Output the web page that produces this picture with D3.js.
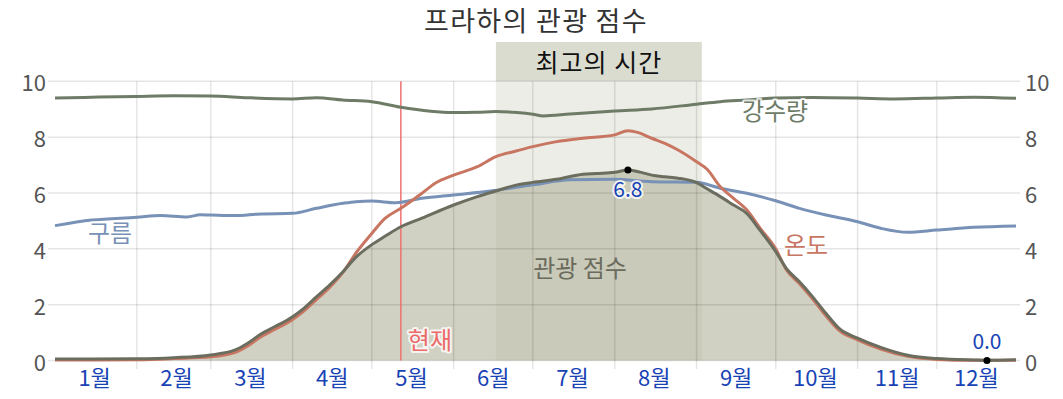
<!DOCTYPE html>
<html>
<head>
<meta charset="utf-8">
<script src="https://cdn.jsdelivr.net/npm/d3@7"></script>
<style>
  body { margin: 0; background: #fff; }
  svg { display: block; font-family: "Noto Sans CJK KR", "Noto Sans", sans-serif; }
</style>
</head>
<body>
<div id="wrapper"></div>
<script>
// data (month-day, value 0-10)
const monthLabels = ["1월","2월","3월","4월","5월","6월","7월","8월","9월","10월","11월","12월"]
const yTicks = [0, 2, 4, 6, 8, 10]

const scoreDates = ["01-01","01-15","02-01","02-15","03-01","03-10","03-15","03-20","03-25","04-01","04-05","04-10","04-15","04-20","04-25","05-01","05-06","05-12","05-20","06-01","06-10","06-17","06-25","07-01","07-10","07-20","07-25","08-01","08-06","08-10","08-15","08-20","08-25","09-01","09-05","09-10","09-15","09-20","09-25","10-01","10-05","10-10","10-15","10-20","10-25","11-01","11-10","11-20","12-01","12-15","12-20","12-31"]
const scoreValues = [0.05,0.05,0.06,0.1,0.2,0.37,0.62,0.95,1.2,1.57,1.85,2.28,2.7,3.17,3.7,4.15,4.45,4.79,5.1,5.57,5.87,6.07,6.29,6.38,6.49,6.67,6.7,6.74,6.82,6.76,6.64,6.58,6.53,6.37,6.15,5.87,5.57,5.27,4.67,3.9,3.3,2.82,2.28,1.69,1.15,0.8,0.46,0.19,0.07,0.02,0.01,0.03]

const tempDates = ["01-01","01-15","02-01","02-15","03-01","03-10","03-15","03-20","03-25","04-01","04-05","04-10","04-15","04-20","04-25","05-01","05-06","05-12","05-20","05-25","06-01","06-10","06-17","06-25","07-01","07-10","07-20","08-01","08-06","08-10","08-15","08-20","08-25","09-01","09-05","09-10","09-15","09-20","09-25","10-01","10-05","10-10","10-15","10-20","10-25","11-01","11-10","11-20","12-01","12-15","12-31"]
const tempValues = [0.02,0.02,0.03,0.07,0.13,0.28,0.52,0.85,1.1,1.47,1.75,2.18,2.62,3.15,3.85,4.55,5.09,5.45,5.99,6.35,6.64,6.94,7.3,7.51,7.66,7.84,7.96,8.08,8.23,8.16,7.96,7.78,7.54,7.12,6.85,6.22,5.81,5.4,4.75,4.0,3.25,2.75,2.2,1.6,1.08,0.74,0.4,0.15,0.04,0.01,0.01]

const cloudDates = ["01-01","01-15","02-01","02-10","02-20","02-25","03-01","03-10","03-20","04-01","04-10","04-20","04-25","05-01","05-10","05-20","06-01","06-15","07-01","07-15","08-01","08-15","09-01","09-10","09-20","10-01","10-10","10-20","11-01","11-10","11-20","12-01","12-15","12-31"]
const cloudValues = [4.83,5.03,5.13,5.19,5.14,5.22,5.21,5.19,5.25,5.27,5.45,5.63,5.69,5.71,5.65,5.81,5.93,6.07,6.29,6.47,6.49,6.4,6.38,6.17,5.99,5.72,5.45,5.21,4.97,4.73,4.59,4.67,4.77,4.82]

const rainDates = ["01-01","01-15","02-01","02-15","03-01","03-15","04-01","04-10","04-20","05-01","05-12","06-01","06-10","06-17","06-25","07-01","07-05","07-15","08-01","08-15","09-01","09-10","09-20","10-01","10-15","11-01","11-15","12-01","12-15","12-31"]
const rainValues = [9.4,9.43,9.46,9.48,9.47,9.41,9.37,9.41,9.33,9.27,9.07,8.88,8.89,8.92,8.88,8.82,8.76,8.83,8.94,9.01,9.18,9.27,9.33,9.4,9.42,9.4,9.37,9.4,9.43,9.39]

const bestStart = "06-17"
const bestEnd = "09-03"
const nowDate = "05-12"
const peakDate = "08-06", peakValue = 6.8
const lowDate = "12-20", lowValue = 0.0

const parseDay = d3.timeParse("%Y-%m-%d")
const day = s => parseDay("2023-" + s)
const toPoints = (dates, values) => dates.map((d, i) => ({ date: day(d), value: values[i] }))

const score = toPoints(scoreDates, scoreValues)
const temp = toPoints(tempDates, tempValues)
const cloud = toPoints(cloudDates, cloudValues)
const rain = toPoints(rainDates, rainValues)

const width = 1063, height = 399

const svg = d3.select("#wrapper").append("svg")
    .attr("width", width)
    .attr("height", height)

const xScale = d3.scaleTime()
    .domain([day("01-01"), day("12-31")])
    .range([55, 1016])
const yScale = d3.scaleLinear()
    .domain([0, 10])
    .range([360.5, 81.3])

// best time band
const bx0 = xScale(day(bestStart)), bx1 = xScale(day(bestEnd))
svg.append("rect")
    .attr("x", bx0).attr("y", 42)
    .attr("width", bx1 - bx0)
    .attr("height", yScale(10) - 42)
    .attr("fill", "#dbdcd0")
svg.append("rect")
    .attr("x", bx0).attr("y", yScale(10))
    .attr("width", bx1 - bx0)
    .attr("height", yScale(0) - yScale(10))
    .attr("fill", "#ecede6")
svg.append("text")
    .attr("x", (bx0 + bx1) / 2)
    .attr("y", 72)
    .attr("text-anchor", "middle")
    .attr("font-size", 25)
    .attr("letter-spacing", 1)
    .attr("fill", "#111")
    .text("최고의 시간")

// score area
const area = d3.area()
    .x(d => xScale(d.date))
    .y0(yScale(0))
    .y1(d => yScale(d.value))
    .curve(d3.curveMonotoneX)
svg.append("path")
    .attr("d", area(score))
    .attr("fill", "rgb(180,182,158)")
    .attr("fill-opacity", 0.63)

// grid
const grid = svg.append("g")
    .attr("stroke", "rgba(0,0,0,0.1)")
    .attr("stroke-width", 1.5)
grid.selectAll("line.h")
    .data(yTicks)
    .join("line")
    .attr("x1", 48).attr("x2", 1020)
    .attr("y1", d => yScale(d)).attr("y2", d => yScale(d))
grid.selectAll("line.v")
    .data(d3.range(1, 12).map(m => new Date(2023, m, 1)))
    .join("line")
    .attr("x1", d => xScale(d)).attr("x2", d => xScale(d))
    .attr("y1", yScale(10)).attr("y2", 369)

// y labels
const yLabelStyle = sel => sel
    .attr("font-size", 22)
    .attr("fill", "#555")
    .attr("dominant-baseline", "central")
svg.append("g").selectAll("text")
    .data(yTicks)
    .join("text")
    .attr("x", 46)
    .attr("y", d => yScale(d))
    .attr("text-anchor", "end")
    .call(yLabelStyle)
    .text(d => d)
svg.append("g").selectAll("text")
    .data(yTicks)
    .join("text")
    .attr("x", 1025)
    .attr("y", d => yScale(d))
    .attr("text-anchor", "start")
    .call(yLabelStyle)
    .text(d => d)

// month labels
svg.append("g").selectAll("text")
    .data(monthLabels)
    .join("text")
    .attr("x", (d, i) => xScale(new Date(2023, i, 16)))
    .attr("y", 386)
    .attr("text-anchor", "middle")
    .attr("font-size", 22)
    .attr("fill", "#1843b5")
    .text(d => d)

// now line
svg.append("line")
    .attr("x1", xScale(day(nowDate))).attr("x2", xScale(day(nowDate)))
    .attr("y1", yScale(10)).attr("y2", yScale(0))
    .attr("stroke", "#f07070")
    .attr("stroke-width", 1.5)

// lines
const line = d3.line()
    .x(d => xScale(d.date))
    .y(d => yScale(d.value))
    .curve(d3.curveMonotoneX)
const drawLine = (data, color) => svg.append("path")
    .attr("d", line(data))
    .attr("fill", "none")
    .attr("stroke", color)
    .attr("stroke-width", 3)
    .attr("stroke-linejoin", "round")
drawLine(rain, "#6e7b66")
drawLine(cloud, "#7891b6")
drawLine(temp, "#c87662")
drawLine(score, "#6b6d5e")

// labels with halo
const label = (x, y, txt, color, size, anchor) => svg.append("text")
    .attr("x", x).attr("y", y)
    .attr("text-anchor", anchor || "middle")
    .attr("font-size", size)
    .attr("fill", color)
    .attr("stroke", "rgba(255,255,255,0.8)")
    .attr("stroke-width", 4)
    .attr("paint-order", "stroke")
    .attr("stroke-linejoin", "round")
    .text(txt)

label(775, 120, "강수량", "#6e7b66", 24)
label(110, 242, "구름", "#7891b6", 24)
label(806, 254, "온도", "#c87662", 24)
svg.append("text")
    .attr("x", 580).attr("y", 277)
    .attr("text-anchor", "middle")
    .attr("font-size", 24)
    .attr("fill", "#6b6b5d")
    .text("관광 점수")
label(xScale(day(nowDate)) + 7, 349, "현재", "#ec6a6a", 24, "start")

// peak / low markers
label(xScale(day(peakDate)), 197, peakValue.toFixed(1), "#1843b5", 21)
label(xScale(day(lowDate)), 349, lowValue.toFixed(1), "#1843b5", 21)
svg.append("circle")
    .attr("cx", xScale(day(peakDate))).attr("cy", yScale(6.82))
    .attr("r", 3.5).attr("fill", "#000")
svg.append("circle")
    .attr("cx", xScale(day(lowDate))).attr("cy", yScale(lowValue))
    .attr("r", 3.5).attr("fill", "#000")

// title
svg.append("text")
    .attr("x", 536).attr("y", 31)
    .attr("text-anchor", "middle")
    .attr("font-size", 27)
    .attr("letter-spacing", 1.3)
    .attr("fill", "#333")
    .text("프라하의 관광 점수")
</script>
</body>
</html>
